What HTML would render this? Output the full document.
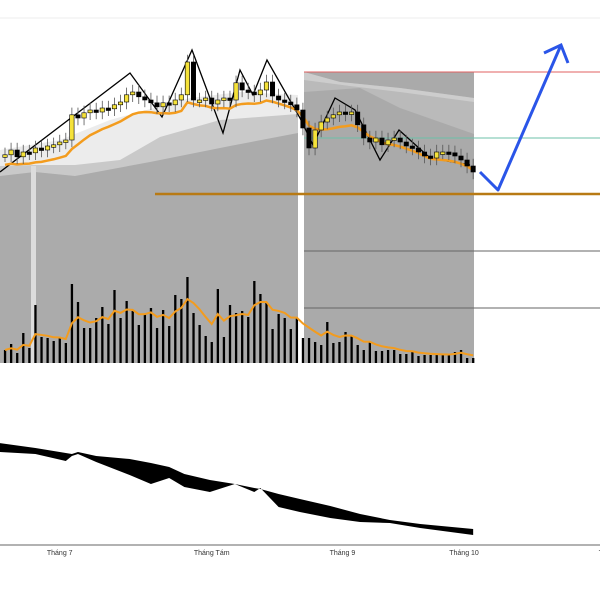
<!DOCTYPE html>
<html><head><meta charset="utf-8">
<style>
html,body{margin:0;padding:0;background:#fff;}
svg{display:block;font-family:"Liberation Sans","Noto Sans CJK SC",sans-serif;}
</style></head>
<body>
<svg id="chart" width="600" height="600" viewBox="0 0 600 600">
  <g id="bg"></g>
  <g id="vol"></g>
  <g id="price"></g>
  <g id="osc"></g>
  <g id="axis"></g>
</svg>
<script>
const closes=[61.3,62.5,60.8,62,61.8,63,62.5,63.5,63.8,64.5,65,71.3,70.5,71.8,72.5,72,73,72.8,73.8,74.5,76.3,77,75.8,75,74.3,73.3,74.3,73.8,75,76.3,84.5,75,75,75.5,74,75,75.5,75,79.3,77.5,77,76.3,77.5,79.5,76,75,74.5,73.8,72.5,68,63,67.5,69.5,70.5,71.3,72,71.5,72,68.8,65.5,64.5,65.5,63.8,65,65.5,64.5,63.5,63,62,61,60.5,62,62,61.8,61,60,58.5,57];
const volumes=[13,19,10,30,15,58,26,25,22,25,20,79,61,35,35,45,56,39,73,45,62,52,38,49,55,35,53,37,68,64,86,50,38,27,21,74,26,58,50,52,46,82,69,61,34,49,45,34,45,25,25,21,18,41,20,21,31,27,18,13,21,12,12,13,13,9,9,11,7,8,8,8,8,8,11,13,5,5];
const oscDays=[-1,5,10,11,12,15,20.5,24,27,29.5,33.7,37.8,41,42,45,48.5,53.5,58.4,63.3,68.3,77];
const oscTop=[117,112,107,106,108,104,101,97,93,86,80,76,72,71,66,61,54,46,40,36,31];
const oscBot=[108,106,99,104,106,98,85,76,82,73,68,76,68,72,53,48,42,38,37,32,25];
const monthLabels=["Tháng 7","Tháng Tám","Tháng 9","Tháng 10","T"];
const monthDays=[9,34,55.5,75.5,98];

const NS="http://www.w3.org/2000/svg";
const xS=i=>5+i*6.08;
const yP=p=>400-p*4;
const yV=v=>363-v;
const yO=v=>560-v;
function mk(tag,attrs,parent){const e=document.createElementNS(NS,tag);for(const k in attrs)e.setAttribute(k,attrs[k]);parent.appendChild(e);return e;}
const bg=document.getElementById('bg'),vol=document.getElementById('vol'),pr=document.getElementById('price'),osc=document.getElementById('osc'),ax=document.getElementById('axis');

let e;
e=mk('line',{x1:0,y1:18,x2:600,y2:18,stroke:'#eee','stroke-width':1},bg);

e=mk('polygon',{points:'0,150 60,140 110,120 190,98 240,92 298,95 298,363 0,363',fill:'#ececec'},bg);

e=mk('polygon',{points:'0,166 35,165 75,165 120,160 160,137 220,120 298,114 298,363 0,363',fill:'#c9c9c9'},bg);

e=mk('polygon',{points:'0,176 35,172 75,176 150,162 230,146 298,133 298,363 0,363',fill:'#ababab'},bg);

e=mk('rect',{x:31,y:166,width:5,height:197,fill:'#dcdcdc'},bg);

e=mk('rect',{x:304,y:72,width:170,height:291,fill:'#aaa'},bg);

e=mk('polygon',{points:'304,72 340,82 400,88 474,98 474,134 400,108 360,88 304,92',fill:'#bababa'},bg);

e=mk('polygon',{points:'304,72 340,82 400,88 474,98 474,102 400,92 350,86 304,80',fill:'#cdcdcd'},bg);

e=mk('line',{x1:304,y1:72,x2:600,y2:72,stroke:'#e06060','stroke-width':1},bg);

e=mk('line',{x1:304,y1:138,x2:600,y2:138,stroke:'#6cc0a8','stroke-width':1},bg);

e=mk('line',{x1:155,y1:194,x2:600,y2:194,stroke:'#b87a14','stroke-width':2.5},bg);

e=mk('line',{x1:304,y1:251,x2:600,y2:251,stroke:'#666','stroke-width':1},bg);

e=mk('line',{x1:304,y1:308,x2:600,y2:308,stroke:'#666','stroke-width':1},bg);


volumes.forEach((v,i)=>{
  const b=mk('rect',{x:xS(i)-1.1,y:yV(v),width:2.3,height:v,fill:'#000'},vol);
  
  
});
function ema(arr,n){const k=2/(n+1);let out=[],p=arr[0];arr.forEach(v=>{p=v*k+p*(1-k);out.push(p);});return out;}
const vma=ema(volumes,6);
e=mk('polyline',{points:vma.map((v,i)=>xS(i)+','+yV(v)).join(' '),fill:'none',stroke:'#f39c1e','stroke-width':2},vol);


const zz=[[0,172],[130,73],[162,117],[192,50],[223,133],[240,70],[253,95],[267,60],[300,118],[313,145],[335,98],[355,110],[380,160],[399,130],[430,158],[470,165]];
e=mk('polyline',{points:zz.map(p=>p.join(',')).join(' '),fill:'none',stroke:'#000','stroke-width':1.3},pr);


const pma=ema(closes,8);
e=mk('polyline',{points:pma.map((v,i)=>xS(i)+','+(yP(v)+10)).join(' '),fill:'none',stroke:'#f39c1e','stroke-width':2.5},pr);


closes.forEach((c,i)=>{
  const o=i?closes[i-1]:c;
  const hi=Math.max(o,c)+1.8,lo=Math.min(o,c)-1.8;
  const up=c>=o;
  const w=mk('line',{x1:xS(i),y1:yP(hi),x2:xS(i),y2:yP(lo),stroke:'#555','stroke-width':0.8},pr);
  
  
  const top=yP(Math.max(o,c)),h=Math.max(2.5,Math.abs(yP(o)-yP(c)));
  const b=mk('rect',{x:xS(i)-2.2,y:top,width:4.4,height:h,fill:up?'#f5e23a':'#000',stroke:'#000','stroke-width':0.6},pr);
  
  
});

e=mk('polyline',{points:'480,172 498,190 561,45',fill:'none',stroke:'#2a55e8','stroke-width':3,'stroke-linejoin':'round'},pr);

e=mk('polyline',{points:'544,53 561,45 568,63',fill:'none',stroke:'#2a55e8','stroke-width':3},pr);


const topPts=oscDays.map((d,i)=>xS(d)+','+yO(oscTop[i]));
const botPts=oscDays.map((d,i)=>xS(d)+','+yO(oscBot[i])).reverse();
e=mk('polygon',{points:topPts.concat(botPts).join(' '),fill:'#000'},osc);


e=mk('line',{x1:0,y1:545,x2:600,y2:545,stroke:'#999','stroke-width':1.5},ax);

monthLabels.forEach((t,i)=>{
  const tx=mk('text',{x:xS(monthDays[i]),y:555,'font-size':7,fill:'#333','text-anchor':'middle'},ax);
  
  
  tx.textContent=t;
});
</script>
</body></html>
